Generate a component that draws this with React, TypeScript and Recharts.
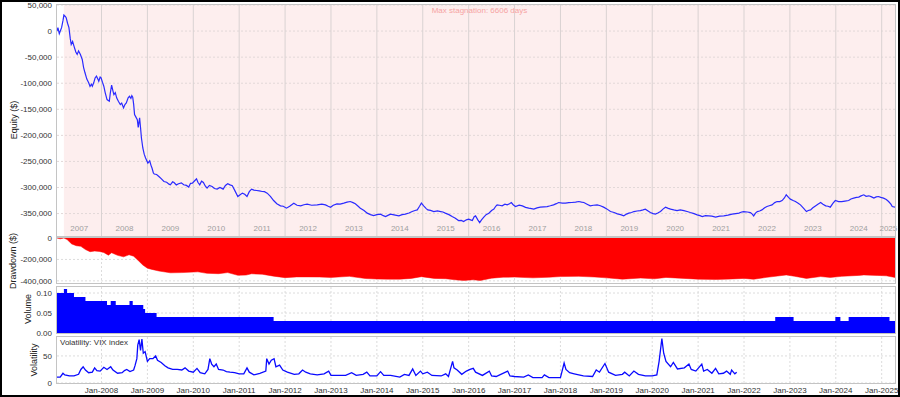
import React from 'react';
import {
  ComposedChart,
  Line,
  Area,
  XAxis,
  YAxis,
  CartesianGrid,
  ReferenceArea,
  ReferenceLine
} from 'recharts';

const FONT = '"Liberation Sans", Arial, Helvetica, sans-serif';
const X_MIN = 2007.03;
const X_MAX = 2025.29;
const STAGNATION_START = 2007.18;

// equity curve, [decimal year, $]
const equity: [number, number][] = [
  [2007.03, 0], [2007.05, 6500], [2007.08, -5000], [2007.11, 2000], [2007.13, 6500],
  [2007.16, 20000], [2007.18, 30700], [2007.21, 28000], [2007.23, 25700], [2007.26, 15000],
  [2007.29, 6500], [2007.32, -15000], [2007.34, -25600], [2007.37, -20000], [2007.4, -28800],
  [2007.44, -40000], [2007.47, -44800], [2007.5, -38000], [2007.54, -44800], [2007.58, -54400],
  [2007.61, -70000], [2007.64, -80000], [2007.68, -92000], [2007.72, -99200], [2007.75, -106000],
  [2007.78, -102000], [2007.8, -105700], [2007.83, -99200], [2007.86, -90000], [2007.89, -86500],
  [2007.92, -92000], [2007.94, -96100], [2007.97, -88000], [2007.99, -89600], [2008.02, -98000],
  [2008.05, -105700], [2008.08, -118000], [2008.12, -131300], [2008.17, -134600], [2008.19, -120000],
  [2008.22, -103800], [2008.25, -115000], [2008.27, -121700], [2008.3, -118000], [2008.33, -128100],
  [2008.37, -135000], [2008.41, -141000], [2008.44, -138000], [2008.48, -147300], [2008.51, -141000],
  [2008.54, -137700], [2008.58, -128000], [2008.61, -125000], [2008.64, -129000], [2008.66, -124000],
  [2008.68, -126900], [2008.7, -140000], [2008.72, -160200], [2008.75, -165000], [2008.78, -169800],
  [2008.8, -184600], [2008.83, -166500], [2008.85, -185000], [2008.87, -205000], [2008.9, -224200],
  [2008.93, -236000], [2008.96, -243500], [2009.01, -253100], [2009.05, -248700], [2009.08, -258000],
  [2009.1, -262700], [2009.13, -272000], [2009.15, -274200], [2009.2, -275000], [2009.25, -278800],
  [2009.3, -283000], [2009.36, -288500], [2009.42, -290000], [2009.47, -293500], [2009.5, -294800],
  [2009.55, -289000], [2009.58, -290400], [2009.63, -295000], [2009.68, -292900], [2009.74, -291000],
  [2009.79, -294800], [2009.85, -296000], [2009.9, -299200], [2009.94, -292000], [2009.98, -291500],
  [2010.03, -287000], [2010.07, -283300], [2010.1, -290000], [2010.14, -294800], [2010.18, -288000],
  [2010.22, -290400], [2010.26, -297000], [2010.3, -301100], [2010.35, -296000], [2010.41, -298100],
  [2010.46, -302000], [2010.52, -303100], [2010.58, -300000], [2010.65, -303100], [2010.7, -296000],
  [2010.75, -292900], [2010.8, -295000], [2010.85, -296700], [2010.9, -305000], [2010.97, -317300],
  [2011.02, -314000], [2011.07, -310800], [2011.12, -313000], [2011.17, -317300], [2011.22, -308000],
  [2011.27, -303100], [2011.32, -305000], [2011.38, -305800], [2011.44, -306500], [2011.5, -307700],
  [2011.55, -308000], [2011.61, -310800], [2011.68, -317000], [2011.75, -325000], [2011.82, -331000],
  [2011.9, -335200], [2011.96, -336000], [2012.03, -339600], [2012.1, -336000], [2012.19, -330000],
  [2012.26, -334000], [2012.34, -335200], [2012.41, -333000], [2012.48, -331900], [2012.58, -334000],
  [2012.7, -333300], [2012.8, -332000], [2012.88, -333300], [2012.94, -336000], [2012.99, -338000],
  [2013.05, -334000], [2013.13, -331300], [2013.2, -332000], [2013.28, -330000], [2013.35, -328000],
  [2013.42, -326900], [2013.48, -329000], [2013.53, -331300], [2013.58, -335000], [2013.64, -339600],
  [2013.72, -344000], [2013.79, -349200], [2013.86, -352000], [2013.93, -353800], [2014.0, -352000],
  [2014.08, -351100], [2014.14, -354000], [2014.19, -355800], [2014.25, -353000], [2014.3, -351100],
  [2014.4, -353000], [2014.48, -354400], [2014.55, -352000], [2014.62, -351100], [2014.7, -349000],
  [2014.77, -346100], [2014.83, -344000], [2014.88, -342900], [2014.93, -336000], [2014.97, -330000],
  [2015.02, -335200], [2015.07, -340000], [2015.11, -342900], [2015.17, -344000], [2015.24, -346100],
  [2015.32, -345000], [2015.39, -346100], [2015.44, -347000], [2015.49, -349200], [2015.57, -352000],
  [2015.64, -355800], [2015.71, -359000], [2015.78, -363400], [2015.84, -363000], [2015.89, -365400],
  [2015.95, -362000], [2016.0, -360800], [2016.04, -362000], [2016.08, -363400], [2016.12, -356000],
  [2016.15, -354400], [2016.2, -362000], [2016.24, -367300], [2016.28, -362000], [2016.33, -356900],
  [2016.38, -352000], [2016.44, -349200], [2016.5, -344000], [2016.55, -341500], [2016.59, -336000],
  [2016.62, -333300], [2016.67, -334000], [2016.73, -335200], [2016.79, -332000], [2016.84, -333300],
  [2016.89, -331000], [2016.93, -328800], [2016.97, -333000], [2017.02, -336500], [2017.1, -334000],
  [2017.17, -335200], [2017.24, -338000], [2017.31, -339600], [2017.37, -340500], [2017.42, -341500],
  [2017.49, -339000], [2017.56, -337700], [2017.64, -337000], [2017.71, -336500], [2017.78, -335000],
  [2017.85, -333300], [2017.91, -331000], [2017.96, -328800], [2018.04, -330000], [2018.11, -330000],
  [2018.18, -329000], [2018.25, -328800], [2018.33, -328000], [2018.4, -326900], [2018.46, -328000],
  [2018.51, -328800], [2018.58, -332000], [2018.65, -335200], [2018.72, -334000], [2018.8, -333300],
  [2018.87, -335000], [2018.94, -337700], [2019.01, -341000], [2019.09, -346100], [2019.17, -348000],
  [2019.24, -350600], [2019.31, -352000], [2019.38, -354400], [2019.44, -351000], [2019.49, -349200],
  [2019.55, -348000], [2019.6, -346100], [2019.67, -345000], [2019.74, -344200], [2019.8, -343000],
  [2019.85, -341500], [2019.91, -345000], [2019.96, -348000], [2020.02, -350000], [2020.07, -351100],
  [2020.12, -349000], [2020.18, -346100], [2020.24, -341000], [2020.29, -337700], [2020.35, -340000],
  [2020.4, -341500], [2020.47, -343000], [2020.54, -344200], [2020.61, -343000], [2020.69, -344200],
  [2020.76, -346000], [2020.83, -348000], [2020.91, -350000], [2020.98, -352500], [2021.04, -354000],
  [2021.09, -355800], [2021.16, -354000], [2021.23, -354400], [2021.3, -355000], [2021.38, -356900],
  [2021.47, -355000], [2021.56, -354400], [2021.65, -353000], [2021.74, -351100], [2021.82, -350000],
  [2021.89, -349200], [2021.95, -347000], [2021.99, -346100], [2022.07, -347000], [2022.14, -348000],
  [2022.18, -351000], [2022.21, -354400], [2022.25, -349000], [2022.29, -346100], [2022.34, -345000],
  [2022.39, -342900], [2022.45, -339000], [2022.5, -336500], [2022.55, -335000], [2022.61, -333300],
  [2022.67, -329000], [2022.72, -326900], [2022.78, -327000], [2022.83, -325000], [2022.88, -320000],
  [2022.92, -314000], [2022.97, -319000], [2023.01, -322300], [2023.07, -325000], [2023.12, -326900],
  [2023.18, -330000], [2023.23, -333300], [2023.3, -340000], [2023.36, -346100], [2023.4, -344000],
  [2023.45, -342900], [2023.5, -339000], [2023.54, -336500], [2023.61, -332000], [2023.67, -328800],
  [2023.72, -332000], [2023.78, -335200], [2023.83, -336000], [2023.88, -337700], [2023.94, -330000],
  [2023.99, -325000], [2024.06, -327000], [2024.13, -326900], [2024.2, -326000], [2024.28, -325000],
  [2024.33, -322000], [2024.39, -320400], [2024.45, -319000], [2024.5, -318400], [2024.55, -316000],
  [2024.61, -314000], [2024.66, -317000], [2024.72, -315900], [2024.78, -318000], [2024.83, -320400],
  [2024.88, -318000], [2024.93, -317300], [2024.98, -319000], [2025.04, -320400], [2025.1, -323000],
  [2025.15, -326900], [2025.2, -332000], [2025.23, -336500], [2025.29, -337700]
];

// drawdown from peak, [decimal year, $]
const drawdown: [number, number][] = [
  [2007.03, 0], [2007.1, -8000], [2007.18, 0], [2007.25, -15000], [2007.35, -55000],
  [2007.45, -72000], [2007.55, -78000], [2007.65, -108000], [2007.75, -128000], [2007.85, -122000],
  [2007.95, -125000], [2008.05, -136000], [2008.15, -160000], [2008.22, -138000], [2008.35, -162000],
  [2008.48, -176000], [2008.6, -157000], [2008.7, -170000], [2008.8, -210000], [2008.9, -252000],
  [2009.0, -282000], [2009.1, -293000], [2009.25, -308000], [2009.5, -325000], [2009.75, -323000],
  [2010.0, -318000], [2010.1, -316000], [2010.3, -330000], [2010.55, -333000], [2010.75, -323000],
  [2010.97, -348000], [2011.15, -346000], [2011.27, -334000], [2011.5, -338000], [2011.75, -356000],
  [2012.0, -370000], [2012.25, -363000], [2012.5, -363000], [2012.75, -364000], [2013.0, -368000],
  [2013.4, -358000], [2013.75, -378000], [2014.0, -383000], [2014.25, -384000], [2014.5, -384000],
  [2014.75, -377000], [2014.97, -361000], [2015.25, -377000], [2015.5, -380000], [2015.75, -392000],
  [2015.9, -396000], [2016.1, -390000], [2016.25, -397000], [2016.5, -375000], [2016.75, -366000],
  [2017.0, -365000], [2017.4, -372000], [2017.75, -366000], [2018.0, -360000], [2018.4, -358000],
  [2018.75, -364000], [2019.0, -372000], [2019.35, -384000], [2019.75, -374000], [2020.05, -381000],
  [2020.3, -368000], [2020.6, -375000], [2021.0, -384000], [2021.4, -387000], [2021.75, -382000],
  [2022.0, -377000], [2022.21, -385000], [2022.5, -367000], [2022.92, -345000], [2023.1, -357000],
  [2023.36, -377000], [2023.67, -360000], [2023.88, -368000], [2024.13, -358000], [2024.5, -349000],
  [2024.61, -345000], [2024.9, -349000], [2025.1, -353000], [2025.29, -368000]
];

// position size, step changes [decimal year, lots]
const volume: [number, number][] = [
  [2007.03, 0.1], [2007.18, 0.11], [2007.25, 0.1], [2007.4, 0.09], [2007.65, 0.08],
  [2008.12, 0.07], [2008.2, 0.08], [2008.31, 0.07], [2008.61, 0.08], [2008.68, 0.07],
  [2008.91, 0.06], [2008.95, 0.05], [2009.2, 0.04], [2011.75, 0.03], [2022.68, 0.04],
  [2023.08, 0.03], [2023.99, 0.04], [2024.1, 0.03], [2024.28, 0.04], [2025.17, 0.03],
  [2025.29, 0.03]
];

// VIX index, [decimal year, level]
const vix: [number, number][] = [
  [2007.03, 11], [2007.1, 11], [2007.16, 18], [2007.2, 15], [2007.3, 13], [2007.4, 13],
  [2007.5, 16], [2007.55, 25], [2007.6, 30], [2007.65, 24], [2007.72, 19], [2007.8, 20],
  [2007.85, 28], [2007.9, 23], [2007.97, 22], [2008.05, 29], [2008.12, 25], [2008.2, 30],
  [2008.25, 24], [2008.35, 18], [2008.45, 19], [2008.5, 23], [2008.55, 25], [2008.62, 21],
  [2008.7, 24], [2008.73, 32], [2008.77, 45], [2008.79, 70], [2008.82, 80], [2008.85, 60],
  [2008.88, 81], [2008.91, 55], [2008.95, 58], [2009.0, 40], [2009.05, 45], [2009.12, 45],
  [2009.18, 50], [2009.22, 42], [2009.3, 38], [2009.38, 32], [2009.45, 28], [2009.55, 25],
  [2009.65, 25], [2009.75, 24], [2009.82, 28], [2009.9, 22], [2010.0, 20], [2010.08, 27],
  [2010.15, 19], [2010.25, 17], [2010.32, 25], [2010.36, 45], [2010.4, 35], [2010.45, 30],
  [2010.5, 35], [2010.55, 25], [2010.65, 24], [2010.72, 21], [2010.8, 20], [2010.9, 19],
  [2011.0, 17], [2011.1, 17], [2011.17, 28], [2011.22, 20], [2011.32, 15], [2011.45, 18],
  [2011.58, 22], [2011.6, 45], [2011.65, 35], [2011.7, 42], [2011.76, 45], [2011.8, 30],
  [2011.88, 33], [2011.95, 24], [2012.05, 20], [2012.2, 16], [2012.3, 17], [2012.38, 24],
  [2012.45, 20], [2012.55, 17], [2012.7, 15], [2012.85, 17], [2012.95, 22], [2013.0, 14],
  [2013.15, 14], [2013.32, 14], [2013.45, 19], [2013.55, 14], [2013.7, 16], [2013.78, 20],
  [2013.85, 13], [2014.0, 13], [2014.08, 21], [2014.15, 14], [2014.3, 14], [2014.5, 11],
  [2014.6, 16], [2014.7, 14], [2014.78, 26], [2014.85, 14], [2014.95, 22], [2015.0, 17],
  [2015.1, 20], [2015.2, 14], [2015.4, 13], [2015.5, 17], [2015.56, 12], [2015.65, 40],
  [2015.68, 28], [2015.75, 24], [2015.85, 16], [2015.95, 22], [2016.03, 25], [2016.1, 27],
  [2016.15, 20], [2016.3, 14], [2016.45, 22], [2016.5, 13], [2016.6, 12], [2016.7, 16],
  [2016.85, 22], [2016.9, 13], [2017.0, 12], [2017.2, 11], [2017.3, 15], [2017.4, 10],
  [2017.6, 10], [2017.65, 15], [2017.75, 10], [2017.9, 10], [2018.0, 10], [2018.08, 37],
  [2018.12, 25], [2018.2, 19], [2018.3, 17], [2018.5, 13], [2018.7, 12], [2018.78, 24],
  [2018.85, 20], [2018.97, 36], [2019.05, 20], [2019.2, 14], [2019.35, 16], [2019.4, 20],
  [2019.5, 13], [2019.6, 22], [2019.7, 16], [2019.85, 13], [2020.0, 13], [2020.1, 15],
  [2020.15, 40], [2020.21, 82], [2020.25, 55], [2020.3, 40], [2020.4, 30], [2020.46, 38],
  [2020.55, 26], [2020.7, 28], [2020.8, 35], [2020.85, 25], [2020.95, 22], [2021.08, 35],
  [2021.12, 22], [2021.2, 25], [2021.3, 18], [2021.38, 27], [2021.45, 17], [2021.55, 18],
  [2021.62, 22], [2021.7, 16], [2021.73, 24], [2021.8, 17], [2021.84, 20]
];

const equityTicks = [50000, 0, -50000, -100000, -150000, -200000, -250000, -300000, -350000];
const drawdownTicks = [0, -200000, -400000];
const volumeTicks = [0, 0.05, 0.1];
const vixTicks = [0, 50];
const yearLines = [
  2008, 2009, 2010, 2011, 2012, 2013, 2014, 2015, 2016,
  2017, 2018, 2019, 2020, 2021, 2022, 2023, 2024, 2025
];
// visible span of every calendar year, labelled inside the equity pane
const yearSpans = [X_MIN, ...yearLines].map((start, i) => ({
  x1: start,
  x2: i < yearLines.length ? yearLines[i] : X_MAX,
  name: String(Math.floor(start))
}));

const rows = (pts: [number, number][]) => pts.map(([t, v]) => ({ t, v }));

const tickStyle = { fontSize: 8, fill: '#333', fontFamily: FONT };
const fmtMoney = (v: number) => v.toLocaleString('en-US');

const CHART_W = 900;
const MARGIN_R = 5;
const AXIS_W = 57;
const PAD = 6; // room above/below small panes so edge tick labels are not clipped

const Frame = ({ top, height }: { top: number; height: number }) => (
  <div
    style={{
      position: 'absolute',
      left: AXIS_W - 1,
      top: top - 1,
      width: CHART_W - AXIS_W - MARGIN_R + 2,
      height: height + 2,
      border: '1px solid #c4c4c4',
      boxSizing: 'border-box',
      pointerEvents: 'none'
    }}
  />
);

// rotated axis title centred on (cx, cy)
const AxisTitle = ({ cx, cy, text }: { cx: number; cy: number; text: string }) => (
  <div
    style={{
      position: 'absolute',
      left: cx - 50,
      top: cy - 6,
      width: 100,
      height: 12,
      lineHeight: '12px',
      fontSize: 9,
      color: '#222',
      textAlign: 'center',
      whiteSpace: 'nowrap',
      transform: 'rotate(-90deg)'
    }}
  >
    {text}
  </div>
);

const hiddenX = (
  <XAxis dataKey="t" type="number" domain={[X_MIN, X_MAX]} allowDataOverflow hide />
);

export default function App() {
  return (
    <div
      style={{
        position: 'absolute',
        left: 0,
        top: 0,
        width: 900,
        height: 397,
        background: '#fff',
        fontFamily: FONT,
        overflow: 'hidden'
      }}
    >
      {/* Equity */}
      <div style={{ position: 'absolute', left: 0, top: 0 }}>
        <ComposedChart
          width={CHART_W}
          height={236}
          data={rows(equity)}
          margin={{ top: 5, right: MARGIN_R, bottom: 0, left: 0 }}
        >
          {hiddenX}
          <YAxis
            type="number"
            domain={[-393000, 50000]}
            allowDataOverflow
            ticks={equityTicks}
            interval={0}
            width={AXIS_W}
            axisLine={false}
            tickLine={false}
            tickSize={3}
            tickMargin={2}
            tick={tickStyle}
            tickFormatter={fmtMoney}
          />
          <ReferenceArea
            x1={STAGNATION_START}
            x2={X_MAX}
            fill="#fdeeee"
            fillOpacity={1}
            stroke="none"
            label={{
              value: 'Max stagnation: 6606 days',
              position: 'insideTop',
              offset: 2,
              fill: '#f6a3a3',
              fontSize: 8,
              fontFamily: FONT
            }}
          />
          {equityTicks.map((v) => (
            <ReferenceLine key={'h' + v} y={v} stroke="#e2d8d8" strokeDasharray="2 2" />
          ))}
          {yearLines.map((y) => (
            <ReferenceLine key={'v' + y} x={y} stroke="#d9d2d2" strokeWidth={1} />
          ))}
          {yearSpans.map((s) => (
            <ReferenceArea
              key={'y' + s.name}
              x1={s.x1}
              x2={s.x2}
              fill="none"
              fillOpacity={0}
              stroke="none"
              label={{
                value: s.name,
                position: 'insideBottom',
                offset: 5,
                fill: '#a0a0a0',
                fontSize: 8,
                fontFamily: FONT
              }}
            />
          ))}
          <Line
            dataKey="v"
            type="linear"
            stroke="#2a2aff"
            strokeWidth={1.2}
            dot={false}
            isAnimationActive={false}
          />
        </ComposedChart>
      </div>
      <Frame top={5} height={231} />
      <AxisTitle cx={14} cy={120} text="Equity ($)" />

      {/* Drawdown */}
      <div style={{ position: 'absolute', left: 0, top: 238 - PAD }}>
        <ComposedChart
          width={CHART_W}
          height={45 + 2 * PAD}
          data={rows(drawdown)}
          margin={{ top: PAD, right: MARGIN_R, bottom: PAD, left: 0 }}
        >
          <CartesianGrid
            stroke="#dcdcdc"
            strokeDasharray="2 2"
            verticalValues={yearLines}
            horizontalValues={drawdownTicks}
          />
          {hiddenX}
          <YAxis
            type="number"
            domain={[-420000, 0]}
            allowDataOverflow
            ticks={drawdownTicks}
            interval={0}
            width={AXIS_W}
            axisLine={false}
            tickLine={false}
            tickSize={3}
            tickMargin={2}
            tick={tickStyle}
            tickFormatter={fmtMoney}
          />
          <Area
            dataKey="v"
            type="linear"
            baseValue={0}
            stroke="#ff0000"
            strokeWidth={0.5}
            fill="#ff0000"
            fillOpacity={1}
            isAnimationActive={false}
          />
        </ComposedChart>
      </div>
      <Frame top={238} height={45} />
      <AxisTitle cx={13} cy={261} text="Drawdown ($)" />

      {/* Volume */}
      <div style={{ position: 'absolute', left: 0, top: 287 - PAD }}>
        <ComposedChart
          width={CHART_W}
          height={46 + 2 * PAD}
          data={rows(volume)}
          margin={{ top: PAD, right: MARGIN_R, bottom: PAD, left: 0 }}
        >
          <CartesianGrid
            stroke="#dcdcdc"
            strokeDasharray="2 2"
            verticalValues={yearLines}
            horizontalValues={volumeTicks}
          />
          {hiddenX}
          <YAxis
            type="number"
            domain={[0, 0.115]}
            allowDataOverflow
            ticks={volumeTicks}
            interval={0}
            width={AXIS_W}
            axisLine={false}
            tickLine={false}
            tickSize={3}
            tickMargin={2}
            tick={tickStyle}
            tickFormatter={(v: number) => v.toFixed(2)}
          />
          <Area
            dataKey="v"
            type="stepAfter"
            baseValue={0}
            stroke="none"
            fill="#0000ff"
            fillOpacity={1}
            isAnimationActive={false}
          />
        </ComposedChart>
      </div>
      <Frame top={287} height={46} />
      <AxisTitle cx={28} cy={309} text="Volume" />

      {/* Volatility */}
      <div style={{ position: 'absolute', left: 0, top: 337 - PAD }}>
        <ComposedChart
          width={CHART_W}
          height={60 + PAD}
          data={rows(vix)}
          margin={{ top: PAD, right: MARGIN_R, bottom: 0, left: 0 }}
        >
          <CartesianGrid
            stroke="#dcdcdc"
            strokeDasharray="2 2"
            verticalValues={yearLines}
            horizontalValues={vixTicks}
          />
          <XAxis
            dataKey="t"
            type="number"
            domain={[X_MIN, X_MAX]}
            allowDataOverflow
            ticks={yearLines}
            interval={0}
            height={14}
            axisLine={false}
            tickLine={false}
            tickSize={3}
            tickMargin={1}
            tick={tickStyle}
            tickFormatter={(v: number) => `Jan-${v}`}
          />
          <YAxis
            type="number"
            domain={[0, 85]}
            allowDataOverflow
            ticks={vixTicks}
            interval={0}
            width={AXIS_W}
            axisLine={false}
            tickLine={false}
            tickSize={3}
            tickMargin={2}
            tick={tickStyle}
          />
          <Line
            dataKey="v"
            type="linear"
            stroke="#0a0aff"
            strokeWidth={1.3}
            dot={false}
            isAnimationActive={false}
          />
        </ComposedChart>
      </div>
      <Frame top={337} height={46} />
      <AxisTitle cx={34} cy={360} text="Volatility" />
      <div
        style={{
          position: 'absolute',
          left: 60,
          top: 338,
          fontSize: 8,
          lineHeight: '10px',
          color: '#333'
        }}
      >
        Volatility: VIX index
      </div>

      {/* outer frame */}
      <div
        style={{
          position: 'absolute',
          left: 0,
          top: 0,
          width: 900,
          height: 397,
          border: '2px solid #000',
          boxSizing: 'border-box',
          pointerEvents: 'none'
        }}
      />
    </div>
  );
}
